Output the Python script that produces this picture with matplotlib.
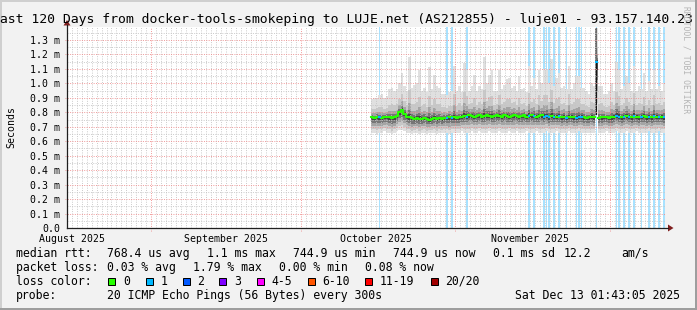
import numpy as np
import pandas as pd
import matplotlib
matplotlib.use('Agg')
import matplotlib.pyplot as plt
from matplotlib.lines import Line2D
from matplotlib.patches import Rectangle, Polygon
from matplotlib.transforms import Affine2D

plt.rcParams['font.family'] = 'DejaVu Sans Mono'

# ---- values (ms), one sample every 12h ----
end_time = pd.Timestamp('2025-12-13 01:43:05')
span_days = 120
first_sample = pd.Timestamp('2025-10-15 01:43:05')
step_days = 0.5

median_ms = [
    0.765, 0.76, 0.77, 0.765, 0.76, 0.765, 0.77, 0.765, 0.76, 0.765,
    0.775, 0.80, 0.815, 0.79, 0.77, 0.765, 0.76, 0.755, 0.76, 0.755,
    0.755, 0.76, 0.755, 0.75, 0.755, 0.76, 0.755, 0.76, 0.755, 0.76,
    0.76, 0.765, 0.76, 0.765, 0.76, 0.765, 0.77, 0.775, 0.77, 0.78,
    0.775, 0.77, 0.775, 0.78, 0.77, 0.775, 0.78, 0.775, 0.77, 0.775,
    0.78, 0.775, 0.77, 0.78, 0.775, 0.77, 0.775, 0.78, 0.775, 0.77,
    0.775, 0.78, 0.77, 0.775, 0.78, 0.775, 0.77, 0.775, 0.78, 0.77,
    0.775, 0.765, 0.775, 0.77, 0.765, 0.775, 0.765, 0.77, 0.76, 0.765,
    0.77, 0.765, 0.76, 0.765, 0.77, 0.765, 0.76, 0.765, 0.77, 0.765,
    1.15, 0.76, 0.765, 0.77, 0.765, 0.76, 0.765, 0.77, 0.775, 0.77,
    0.765, 0.77, 0.775, 0.77, 0.765, 0.775, 0.77, 0.765, 0.77, 0.775,
    0.765, 0.77, 0.765, 0.775, 0.77, 0.765, 0.77, 0.765,
]
max_ms = [
    0.89, 0.90, 0.90, 0.92, 0.93, 0.90, 0.91, 0.96, 0.97, 0.95,
    0.96, 1.00, 1.07, 0.98, 0.95, 1.18, 0.97, 0.99, 1.00, 1.09,
    0.95, 0.97, 0.94, 1.11, 0.96, 1.06, 0.98, 0.97, 0.93, 0.93,
    0.92, 0.94, 0.95, 1.12, 0.95, 0.98, 0.94, 1.14, 1.09, 0.95,
    0.98, 1.06, 0.95, 0.98, 0.96, 1.18, 1.00, 1.06, 1.09, 0.95,
    0.95, 1.09, 0.96, 0.99, 1.03, 1.04, 0.97, 0.98, 0.95, 1.05,
    0.96, 0.97, 0.94, 1.12, 0.98, 1.04, 0.96, 1.09, 1.00, 1.10,
    1.09, 1.00, 1.17, 0.98, 1.04, 1.07, 0.97, 0.98, 0.96, 1.12,
    0.96, 1.00, 1.05, 1.05, 0.97, 0.97, 0.95, 0.93, 1.00, 0.98,
    1.38, 0.98, 0.98, 0.93, 0.93, 0.95, 1.00, 0.95, 1.15, 1.09,
    0.96, 0.98, 1.05, 1.00, 0.95, 1.12, 0.95, 0.98, 0.96, 1.07,
    0.95, 1.02, 0.96, 1.09, 0.96, 0.98, 0.95, 1.00,
]
min_ms = [
    0.66, 0.66, 0.65, 0.66, 0.66, 0.67, 0.66, 0.66, 0.65, 0.66,
    0.67, 0.68, 0.68, 0.67, 0.66, 0.66, 0.65, 0.66, 0.66, 0.65,
    0.66, 0.66, 0.65, 0.66, 0.66, 0.66, 0.65, 0.66, 0.66, 0.66,
    0.66, 0.65, 0.66, 0.66, 0.66, 0.66, 0.67, 0.66, 0.66, 0.66,
    0.67, 0.66, 0.66, 0.67, 0.66, 0.66, 0.66, 0.67, 0.66, 0.66,
    0.66, 0.67, 0.66, 0.66, 0.66, 0.67, 0.66, 0.66, 0.67, 0.66,
    0.66, 0.66, 0.67, 0.66, 0.66, 0.66, 0.67, 0.66, 0.66, 0.66,
    0.67, 0.66, 0.66, 0.66, 0.67, 0.66, 0.66, 0.66, 0.66, 0.67,
    0.66, 0.66, 0.66, 0.67, 0.66, 0.66, 0.66, 0.66, 0.66, 0.66,
    0.78, 0.66, 0.66, 0.66, 0.67, 0.66, 0.66, 0.66, 0.67, 0.66,
    0.66, 0.66, 0.67, 0.66, 0.66, 0.66, 0.67, 0.66, 0.66, 0.66,
    0.66, 0.67, 0.66, 0.66, 0.66, 0.67, 0.66, 0.66,
]
# samples that lost one of the 20 pings
loss_samples = [3, 30, 32, 38, 63, 65, 69, 70, 71, 73, 75, 78, 82, 83, 84,
                90, 98, 99, 101, 103, 105, 108, 111, 113, 115, 117]
# sample where the pings were spread wide: dense dark smoke (sample, low, high)
dense_columns = [(90, 0.78, 1.15)]

month_labels = ['August 2025', 'September 2025', 'October 2025', 'November 2025']
month_label_dates = ['2025-08-16', '2025-09-16', '2025-10-16', '2025-11-16']
major_grid_dates = ['2025-09-01', '2025-10-01', '2025-11-01', '2025-12-02']
yticks_ms = [0.0, 0.1, 0.2, 0.3, 0.4, 0.5, 0.6, 0.7, 0.8, 0.9, 1.0, 1.1, 1.2, 1.3]

title = 'Last 120 Days from docker-tools-smokeping to LUJE.net (AS212855) - luje01 - 93.157.140.23'
rtt_legend = ['median rtt:', '768.4 us avg', '1.1 ms max', '744.9 us min',
              '744.9 us now', '0.1 ms sd', '12.2', 'am/s']
loss_legend = ['packet loss:', '0.03 % avg', '1.79 % max', '0.00 % min', '0.08 % now']
loss_names = ['0', '1', '2', '3', '4-5', '6-10', '11-19', '20/20']
loss_colors = ['#26ff00', '#00b8ff', '#0059ff', '#7e00ff', '#ff00ff', '#ff5500', '#ff0000', '#a10000']
probe_text = '20 ICMP Echo Pings (56 Bytes) every 300s'
stamp = 'Sat Dec 13 01:43:05 2025'

# ---- layout (pixels) ----
W, H = 697, 310
X0, X1, Y0, Y1 = 67, 665, 27, 228
ymax = (Y1 - Y0) / 144.6
start_time = end_time - pd.Timedelta(days=span_days)


def days(ts):
    return (pd.Timestamp(ts) - start_time) / pd.Timedelta(days=1)


fig = plt.figure(figsize=(W / 100, H / 100), dpi=100, facecolor='#f2f2f2')
pix = Affine2D().scale(1 / W, -1 / H).translate(0, 1) + fig.transFigure

# rrdtool style shaded frame
fig.add_artist(Rectangle((0, 0), W, 2, transform=pix, color='#cfcfcf', lw=0))
fig.add_artist(Rectangle((0, 0), 2, H, transform=pix, color='#cfcfcf', lw=0))
fig.add_artist(Rectangle((0, H - 2), W, 2, transform=pix, color='#9e9e9e', lw=0))
fig.add_artist(Rectangle((W - 2, 0), 2, H, transform=pix, color='#9e9e9e', lw=0))

ax = fig.add_axes([X0 / W, 1 - Y1 / H, (X1 - X0) / W, (Y1 - Y0) / H])
ax.set_facecolor('white')
ax.set_xlim(0, span_days)
ax.set_ylim(0, ymax)
for s in ax.spines.values():
    s.set_visible(False)

med = np.array(median_ms)
hi = np.array(max_ms)
lo = np.array(min_ms)
n = len(med)
t = days(first_sample) + step_days * np.arange(n)
t_edges = np.append(t, t[-1] + step_days)
lossy = np.zeros(n, dtype=bool)
lossy[loss_samples] = True


def ext(a):
    return np.append(a, a[-1])


# loss background bars
for i in loss_samples:
    ax.axvspan(t[i] + 0.1, t[i] + 0.4, color='#a8e2ff', lw=0, zorder=1)

# smoke: nested layers, darker towards the median
up_fracs = [1.0, 0.45, 0.24, 0.12, 0.05]
dn_fracs = [1.0, 0.78, 0.55, 0.35, 0.15]
shades = ['#e0e0e0', '#c8c8c8', '#a4a4a4', '#767676', '#444444']
for fu, fd, c in zip(up_fracs, dn_fracs, shades):
    up = med + fu * (hi - med)
    dn = med - fd * (med - lo)
    ax.fill_between(t_edges, ext(dn), ext(up), step='post', color=c, lw=0, zorder=2)
for i, a, b in dense_columns:
    ax.fill_between([t[i] + 0.05, t[i] + 0.45], [a, a], [hi[i], hi[i]], color='#6a6a6a',
                    lw=0, zorder=2.1)
    ax.fill_between([t[i] + 0.12, t[i] + 0.42], [a, a], [b, b], color='#151515',
                    lw=0, zorder=2.2)

# grid (dotted, rrdtool style)
dpd = span_days / (X1 - X0)
dpm = ymax / (Y1 - Y0)
minor_days = [days(d) for d in pd.date_range('2025-08-16', '2025-12-13', freq='D')]
major_days = [days(d) for d in major_grid_dates]
minor_kw = dict(color='#c4c4c4', lw=0.65, ls=(0, (1, 1.6)), zorder=2.5)
major_kw = dict(color='#ee8c8c', lw=0.65, ls=(0, (1, 1.6)), zorder=2.6, clip_on=False)
for d in minor_days:
    if min(abs(d - m) for m in major_days) > 0.2:
        ax.plot([d, d], [0, ymax], **minor_kw)
for k in range(1, 28, 2):
    ax.plot([0, span_days], [k * 0.05, k * 0.05], **minor_kw)
for d in major_days:
    ax.plot([d, d], [-3 * dpm, ymax], **major_kw)
for v in yticks_ms[1:]:
    ax.plot([-2 * dpd, span_days], [v, v], **major_kw)

# median line coloured by loss (segments break where the colour changes)
ax.step(t_edges, ext(np.where(lossy, np.nan, med)), where='post',
        color=loss_colors[0], lw=1.5, zorder=3)
for i in loss_samples:
    ax.plot([t[i], t[i] + step_days], [med[i], med[i]], color=loss_colors[1],
            lw=1.5, zorder=3.5, solid_capstyle='butt')

# ticks
ax.set_yticks(yticks_ms)
ax.set_yticklabels(['0.0' if v == 0 else f'{v:.1f} m' for v in yticks_ms])
ax.set_xticks([days(d) for d in month_label_dates])
ax.set_xticklabels(month_labels)
ax.tick_params(axis='y', length=0, pad=5, labelsize=7.1)
ax.tick_params(axis='x', length=0, pad=4, labelsize=7.1)

# axes with arrows
fig.add_artist(Line2D([X0, 668], [Y1, Y1], transform=pix, color='#1f1f1f', lw=0.9))
fig.add_artist(Line2D([X0, X0], [Y1, 25], transform=pix, color='#1f1f1f', lw=0.9))
fig.add_artist(Polygon([[668, Y1 - 3.5], [673.5, Y1], [668, Y1 + 3.5]], closed=True,
                       transform=pix, color='#801f1f', lw=0))
fig.add_artist(Polygon([[X0 - 3.5, 25.5], [X0, 20], [X0 + 3.5, 25.5]], closed=True,
                       transform=pix, color='#801f1f', lw=0))

# texts
fig.text(-8.5, 23.5, title, transform=pix, fontsize=9.48, ha='left', va='baseline')
fig.text(11, (Y0 + Y1) / 2, 'Seconds', transform=pix, fontsize=7.1, rotation=90,
         ha='center', va='center')
fig.text(686, 60, 'RRDTOOL / TOBI OETIKER', transform=pix, fontsize=5.8, rotation=270,
         ha='center', va='center', color='#b4b4b4')

fs = 8.3
for s, x in zip(rtt_legend, [16, 107.3, 207.3, 292.7, 393.3, 493.3, 563.3, 621.7]):
    fig.text(x, 257, s, transform=pix, fontsize=fs, va='baseline')
for s, x in zip(loss_legend, [16, 107.3, 193.3, 279.3, 365]):
    fig.text(x, 271, s, transform=pix, fontsize=fs, va='baseline')
fig.text(16, 285, 'loss color:', transform=pix, fontsize=fs, va='baseline')
for s, c, x in zip(loss_names, loss_colors, [108.3, 145.7, 182.7, 219.3, 256.7, 307.7, 365, 431]):
    fig.add_artist(Rectangle((x, 278), 7, 7, transform=pix, facecolor=c,
                             edgecolor='black', lw=0.72))
    fig.text(x + 14.5, 285, s, transform=pix, fontsize=fs, va='baseline')
fig.text(16, 299, 'probe:', transform=pix, fontsize=fs, va='baseline')
fig.text(107.3, 299, probe_text, transform=pix, fontsize=fs, va='baseline')
fig.text(680, 299, stamp, transform=pix, fontsize=fs, va='baseline', ha='right')

fig.savefig('out.png', dpi=100, facecolor=fig.get_facecolor())
